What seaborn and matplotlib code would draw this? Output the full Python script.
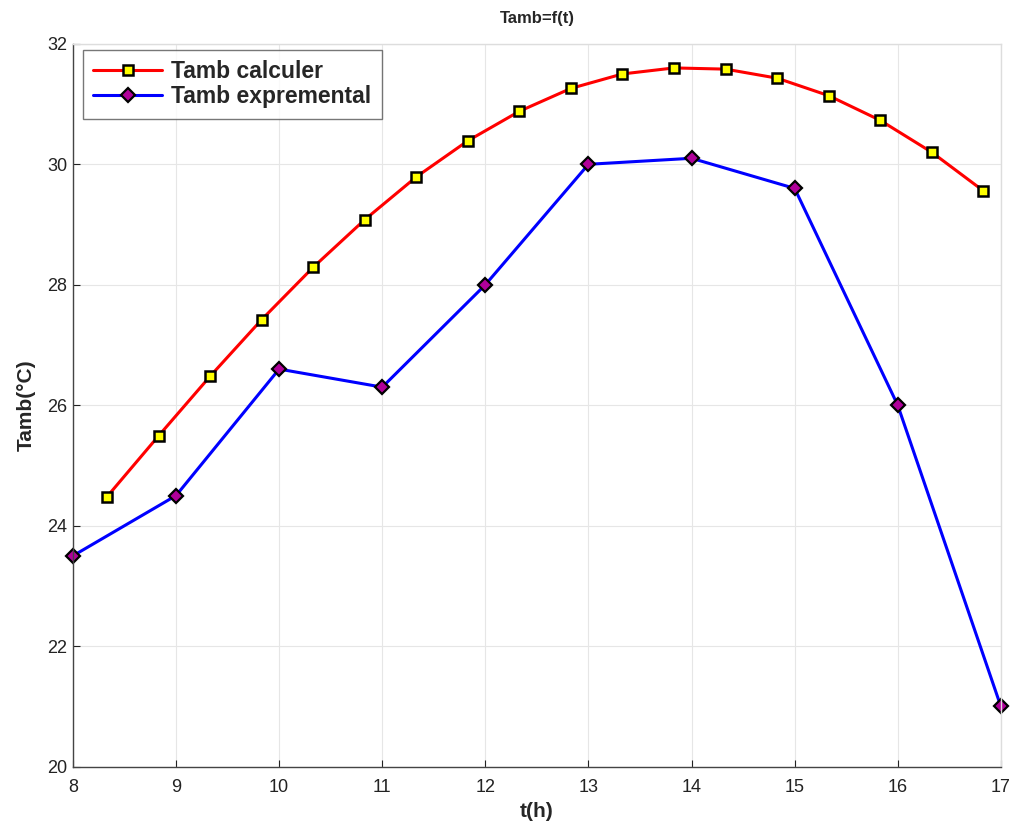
import matplotlib
matplotlib.use("Agg")
import matplotlib.pyplot as plt
import seaborn as sns
import pandas as pd

# Measured and computed ambient temperature over the day
t_calc = [8.33, 8.83, 9.33, 9.83, 10.33, 10.83, 11.33, 11.83, 12.33,
          12.83, 13.33, 13.83, 14.33, 14.83, 15.33, 15.83, 16.33, 16.83]
tamb_calc = [24.48, 25.49, 26.48, 27.42, 28.29, 29.08, 29.79, 30.39, 30.88,
             31.26, 31.50, 31.60, 31.58, 31.43, 31.14, 30.73, 30.20, 29.56]

t_exp = [8, 9, 10, 11, 12, 13, 14, 15, 16, 17]
tamb_exp = [23.5, 24.5, 26.6, 26.3, 28.0, 30.0, 30.1, 29.6, 26.0, 21.0]

x_ticks = list(range(8, 18))
y_ticks = list(range(20, 33, 2))

df_calc = pd.DataFrame({"t": t_calc, "Tamb": tamb_calc})
df_exp = pd.DataFrame({"t": t_exp, "Tamb": tamb_exp})

sns.set_theme(style="white")
plt.rcParams["font.family"] = ["Liberation Sans", "DejaVu Sans"]

fig = plt.figure(figsize=(10.13, 8.27), dpi=100)
ax = fig.add_axes([0.072, 0.073, 0.916, 0.874])

sns.lineplot(data=df_calc, x="t", y="Tamb", ax=ax, color="red", linewidth=2.2,
             marker="s", markersize=6.5, markerfacecolor="yellow",
             markeredgecolor="black", markeredgewidth=1.8,
             label="Tamb calculer", clip_on=False)
sns.lineplot(data=df_exp, x="t", y="Tamb", ax=ax, color="blue", linewidth=2.2,
             marker="D", markersize=7.5, markerfacecolor="#b0009a",
             markeredgecolor="black", markeredgewidth=1.6,
             label="Tamb exprementaI", clip_on=False)

ax.set_xlim(8, 17)
ax.set_ylim(20, 32)
ax.set_xticks(x_ticks)
ax.set_yticks(y_ticks)
ax.grid(True, color="#e6e6e6", linewidth=0.8)
ax.tick_params(axis="both", labelsize=13, colors="#222222", direction="in",
               length=5, width=0.8, bottom=True, left=True)
ax.tick_params(axis="x", pad=9)
ax.tick_params(axis="y", pad=4)
for side in ["left", "bottom"]:
    ax.spines[side].set_color("#444444")
    ax.spines[side].set_linewidth(1.0)
for side in ["top", "right"]:
    ax.spines[side].set_color("#dddddd")
    ax.spines[side].set_linewidth(1.0)

ax.set_xlabel("t(h)", fontsize=15, fontweight="bold", labelpad=4)
ax.set_ylabel("Tamb(°C)", fontsize=15, fontweight="bold", labelpad=8)
ax.set_title("Tamb=f(t)", fontsize=12, fontweight="bold", pad=15)

leg = ax.legend(loc="upper left", fontsize=16.5, frameon=True, fancybox=False,
                borderpad=0.45, handlelength=3.0, handletextpad=0.4,
                labelspacing=0.1, borderaxespad=0,
                bbox_to_anchor=(0.011, 0.992))
leg.get_frame().set_edgecolor("#555555")
leg.get_frame().set_linewidth(1.0)
for txt in leg.get_texts():
    txt.set_fontweight("bold")
    if txt.get_text().endswith("I"):
        txt.set_text(txt.get_text()[:-1] + "l")

fig.savefig("out.png", dpi=100, facecolor="white")
